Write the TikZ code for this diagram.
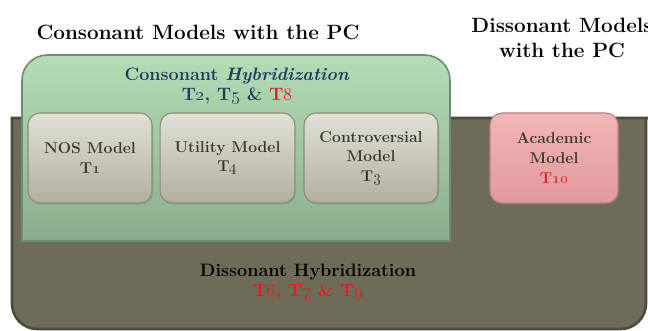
\documentclass[tikz,border=0pt]{standalone}
\usepackage{fix-cm}
\usetikzlibrary{shadows}

\definecolor{outerfill}{HTML}{6E6C58}
\definecolor{outeredge}{HTML}{4C4B3D}
\definecolor{greentop}{HTML}{B5DCB5}
\definecolor{greenbot}{HTML}{8AAE8D}
\definecolor{greenedge}{HTML}{6F8C70}
\definecolor{boxtop}{HTML}{E2E0D5}
\definecolor{boxbot}{HTML}{B2AF9F}
\definecolor{boxedge}{HTML}{8C8A7A}
\definecolor{pinktop}{HTML}{F2B6B8}
\definecolor{pinkbot}{HTML}{E2989C}
\definecolor{pinkedge}{HTML}{B88284}
\definecolor{boxtext}{HTML}{3A3931}
\definecolor{navytext}{HTML}{1E3A5C}
\definecolor{hotred}{HTML}{E0201E}

\newcommand\osn[1]{\oldstylenums{#1}}

\begin{document}
\begin{tikzpicture}[x=0.75pt,y=-0.75pt,
  headtext/.style={font=\fontsize{15.5}{18.75}\selectfont\bfseries, text=black, align=center, inner sep=0pt},
  grouptext/.style={font=\fontsize{13.5}{15}\selectfont\bfseries, align=center, inner sep=0pt},
  modelbox/.style={draw=boxedge, line width=0.8pt, rounded corners=9pt,
    top color=boxtop, bottom color=boxbot, align=center, inner sep=0pt,
    minimum height=67.5pt, text=boxtext,
    font=\fontsize{11.8}{14.8}\selectfont\bfseries,
    drop shadow={opacity=0.35, shadow xshift=1pt, shadow yshift=-1.2pt}},
  pinkbox/.style={modelbox, draw=pinkedge, top color=pinktop, bottom color=pinkbot}
]
\clip (0,0) rectangle (648,331);
\fill[white] (0,0) rectangle (648,331);

% outer dark panel: dissonant hybridization
\draw[line width=2pt, draw=outeredge, fill=outerfill]
  (660,118) -- (12,118) [rounded corners=19pt] -- (12,329) -- (646,329)
  [sharp corners] -- (646,118) -- cycle;

% green panel: consonant hybridization
\draw[line width=1.2pt, draw=greenedge, top color=greentop, bottom color=greenbot]
  (22,241) [rounded corners=19pt] -- (22,55) -- (450,55)
  [sharp corners] -- (450,241) -- cycle;

% headings
\node[headtext] (conshead) at (198,32) {Consonant Models with the PC};
\node[headtext] (disshead) at (562,38) {Dissonant Models\\with the PC};

\node[grouptext, text=navytext] (conshyb) at (237,86)
  {Consonant \textit{Hybridization}\\
   T\osn{2}, T\osn{5} \& \textcolor{hotred}{T\osn{8}}};

% model boxes
\node[modelbox, minimum width=93pt] (nos) at (90,158) {NOS Model\\T\osn{1}};
\node[modelbox, minimum width=101pt] (utility) at (227.5,158) {Utility Model\\T\osn{4}};
\node[modelbox, minimum width=100.5pt] (controv) at (371,158) {Controversial\\Model\\T\osn{3}};
\node[pinkbox, minimum width=96pt] (academic) at (554,158)
  {Academic\\Model\\\textcolor{hotred}{T\osn{10}}};

\node[grouptext, text=black] (disshyb) at (308,282)
  {Dissonant Hybridization\\\textcolor{hotred}{T\osn{6}, T\osn{7} \& T\osn{9}}};
\end{tikzpicture}
\end{document}
